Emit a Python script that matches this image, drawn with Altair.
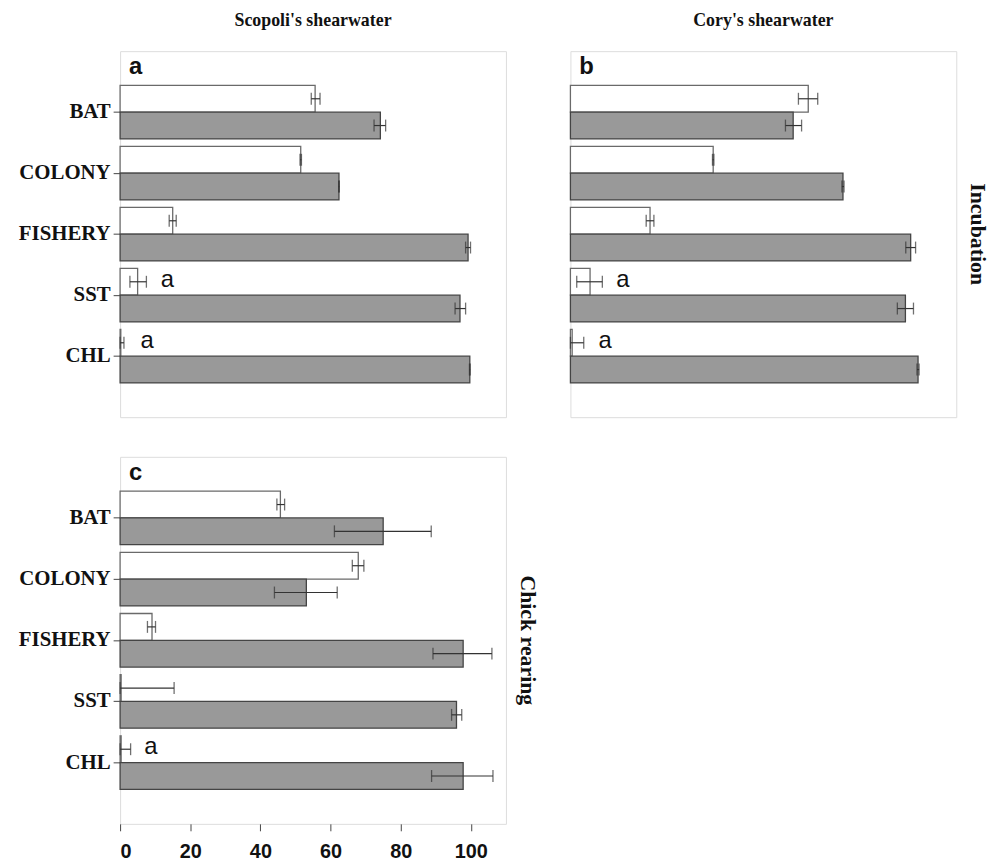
import altair as alt
import pandas as pd

cats = ["BAT", "COLONY", "FISHERY", "SST", "CHL"]
series = ["white", "grey"]

# Panel a: Scopoli's shearwater, incubation
a_white = [55.6, 51.5, 15.0, 5.0, 0.2]
a_white_lo = [54.5, 51.3, 14.0, 2.8, 0.0]
a_white_hi = [57.0, 51.7, 16.0, 7.5, 1.1]
a_grey = [74.2, 62.4, 99.2, 96.9, 99.7]
a_grey_lo = [72.4, 62.3, 98.5, 95.5, 99.6]
a_grey_hi = [75.7, 62.5, 99.9, 98.5, 99.8]
a_ann_vars = ["SST", "CHL"]
a_ann_x = [11.6, 5.8]

# Panel b: Cory's shearwater, incubation
b_white = [67.8, 40.7, 22.7, 5.6, 0.5]
b_white_lo = [65.0, 40.5, 21.6, 1.8, 0.0]
b_white_hi = [70.5, 40.9, 23.8, 9.1, 3.8]
b_grey = [63.5, 77.7, 97.0, 95.5, 99.1]
b_grey_lo = [61.3, 77.4, 95.6, 93.2, 98.8]
b_grey_hi = [65.9, 78.0, 98.4, 97.8, 99.4]
b_ann_vars = ["SST", "CHL"]
b_ann_x = [13.1, 8.0]

# Panel c: Scopoli's shearwater, chick rearing
c_white = [45.7, 67.9, 9.1, 0.3, 0.3]
c_white_lo = [44.7, 66.2, 7.8, 0.0, 0.0]
c_white_hi = [46.9, 69.5, 10.1, 15.4, 3.0]
c_grey = [75.0, 53.1, 97.8, 95.9, 97.8]
c_grey_lo = [61.1, 44.0, 89.2, 94.5, 88.8]
c_grey_hi = [88.7, 61.9, 106.0, 97.4, 106.3]
c_ann_vars = ["CHL"]
c_ann_x = [6.9]

x_ticks = [0, 20, 40, 60, 80, 100]


def build_df(white, wlo, whi, grey, glo, ghi):
    rows = []
    for i, c in enumerate(cats):
        rows.append(dict(var=c, s="white", v=white[i], lo=wlo[i], hi=whi[i]))
        rows.append(dict(var=c, s="grey", v=grey[i], lo=glo[i], hi=ghi[i]))
    return pd.DataFrame(rows)


def build_ann(vars_, xs):
    return pd.DataFrame({"var": vars_, "x": xs, "s": ["white"] * len(vars_), "t": ["a"] * len(vars_)})


W, H = 389, 369
ERR = "#333333"


def panel(df, ann, letter, show_y, show_x, title=None, row_title=None, h=H):
    xscale = alt.Scale(domain=[0, 110], nice=False, zero=True)
    if show_x:
        xax = alt.Axis(title=None, values=x_ticks, labelFont="Liberation Sans", labelFontWeight="bold",
                       labelFontSize=20, labelColor="#111", tickSize=7, tickColor="#444", domain=False,
                       grid=False, labelPadding=11)
    else:
        xax = None
    if show_y:
        yax = alt.Axis(title=None, labelFont="Liberation Serif", labelFontWeight="bold", labelFontSize=21,
                       labelColor="#111", tickSize=7, tickColor="#444", domain=False, labelPadding=3)
    else:
        yax = None
    yscale = alt.Scale(paddingInner=0.122, paddingOuter=0.561)
    yenc = alt.Y("var:N", sort=cats, scale=yscale, axis=yax)
    yoff = alt.YOffset("s:N", sort=series, scale=alt.Scale(paddingInner=0, paddingOuter=0))

    base = alt.Chart(df)
    bars = base.mark_bar(strokeWidth=1.3).encode(
        x=alt.X("v:Q", scale=xscale, axis=xax),
        y=yenc,
        yOffset=yoff,
        fill=alt.Fill("s:N", scale=alt.Scale(domain=series, range=["#ffffff", "#999999"]), legend=None),
        stroke=alt.Stroke("s:N", scale=alt.Scale(domain=series, range=["#6a6a6a", "#444444"]), legend=None),
    )
    rule = base.mark_rule(color=ERR, strokeWidth=1.2).encode(
        x=alt.X("lo:Q", scale=xscale, axis=xax), x2="hi:Q", y=yenc, yOffset=yoff
    )
    cap_lo = base.mark_tick(color=ERR, size=12, thickness=1.3).encode(
        x=alt.X("lo:Q", scale=xscale, axis=xax), y=yenc, yOffset=yoff
    )
    cap_hi = base.mark_tick(color=ERR, size=12, thickness=1.3).encode(
        x=alt.X("hi:Q", scale=xscale, axis=xax), y=yenc, yOffset=yoff
    )
    ann_layer = alt.Chart(ann).mark_text(font="Liberation Sans", fontSize=24, align="left",
                                         baseline="middle", color="#111", dy=-2).encode(
        x=alt.X("x:Q", scale=xscale, axis=xax), y=yenc, yOffset=yoff, text="t:N"
    )
    lt = alt.Chart(pd.DataFrame({"t": [letter]})).mark_text(
        font="Liberation Sans", fontWeight="bold", fontSize=24, align="left", baseline="alphabetic",
        color="#111"
    ).encode(x=alt.value(9), y=alt.value(23), text="t:N")
    layers = [bars, rule, cap_lo, cap_hi, ann_layer, lt]
    if row_title:
        rt = alt.Chart(pd.DataFrame({"t": [row_title]})).mark_text(
            font="Liberation Serif", fontWeight="bold", fontSize=22, angle=90, align="center",
            baseline="middle", color="#111"
        ).encode(x=alt.value(W + 22), y=alt.value(h / 2), text="t:N")
        layers.append(rt)
    ch = alt.layer(*layers).properties(width=W, height=h)
    if title:
        ch = ch.properties(title=alt.TitleParams(title, font="Liberation Serif", fontWeight="bold",
                                                 fontSize=18, anchor="middle", frame="group",
                                                 offset=21, color="#111"))
    return ch


pa = panel(build_df(a_white, a_white_lo, a_white_hi, a_grey, a_grey_lo, a_grey_hi),
           build_ann(a_ann_vars, a_ann_x), "a", True, False, title="Scopoli's shearwater")
pb = panel(build_df(b_white, b_white_lo, b_white_hi, b_grey, b_grey_lo, b_grey_hi),
           build_ann(b_ann_vars, b_ann_x), "b", False, False, title="Cory's shearwater",
           row_title="Incubation")
pc = panel(build_df(c_white, c_white_lo, c_white_hi, c_grey, c_grey_lo, c_grey_hi),
           build_ann(c_ann_vars, c_ann_x), "c", True, True, row_title="Chick rearing", h=370)

top = alt.hconcat(pa, pb, spacing=62).resolve_scale(fill="independent", stroke="independent")
chart = alt.vconcat(top, pc, spacing=38).properties(
    padding={"left": 9, "top": 0, "right": 0, "bottom": 2}
).configure_view(stroke="#666666", strokeWidth=1.5).configure(background="white")

chart.save("out.html", embed_options={"renderer": "svg", "actions": False})
